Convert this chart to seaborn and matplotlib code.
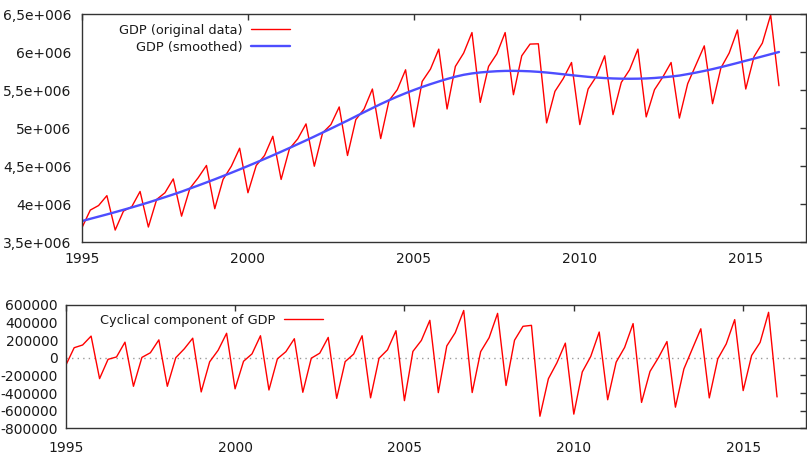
import numpy as np
import pandas as pd
import seaborn as sns
import matplotlib
matplotlib.use("Agg")
import matplotlib.pyplot as plt

# quarterly series, 1995:1 - 2016:1 (values in thousands)
quarters = pd.period_range("1995Q1", "2016Q1", freq="Q")

gdp_k = [
    3689, 3920, 3980, 4110,
    3657, 3907, 3965, 4165,
    3697, 4060, 4148, 4330,
    3840, 4205, 4345, 4507,
    3938, 4323, 4497, 4734,
    4148, 4507, 4638, 4891,
    4323, 4726, 4857, 5054,
    4497, 4936, 5045, 5277,
    4638, 5110, 5250, 5513,
    4861, 5360, 5504, 5766,
    5014, 5613, 5775, 6038,
    5250, 5810, 5986, 6256,
    5337, 5810, 5976, 6256,
    5438, 5950, 6104, 6108,
    5067, 5482, 5650, 5862,
    5045, 5513, 5680, 5950,
    5176, 5600, 5766, 6038,
    5146, 5504, 5670, 5862,
    5130, 5583, 5832, 6081,
    5320, 5789, 5986, 6290,
    5513, 5940, 6117, 6488,
    5556,
]

# HP trend
trend_k = [
    3776, 3805, 3834, 3863,
    3893, 3924, 3955, 3987,
    4020, 4055, 4090, 4126,
    4163, 4203, 4243, 4284,
    4325, 4368, 4411, 4455,
    4500, 4546, 4593, 4640,
    4688, 4737, 4787, 4837,
    4888, 4940, 4992, 5045,
    5098, 5153, 5208, 5262,
    5315, 5365, 5413, 5458,
    5500, 5540, 5577, 5612,
    5645, 5675, 5700, 5718,
    5731, 5740, 5747, 5751,
    5752, 5750, 5746, 5739,
    5730, 5719, 5707, 5695,
    5684, 5673, 5664, 5657,
    5652, 5649, 5648, 5649,
    5652, 5658, 5667, 5677,
    5690, 5709, 5729, 5751,
    5775, 5801, 5828, 5856,
    5885, 5913, 5942, 5971,
    6000,
]

xticks = [1995, 2000, 2005, 2010, 2015]
top_yticks = [3.5e6, 4e6, 4.5e6, 5e6, 5.5e6, 6e6, 6.5e6]
top_ylabels = ["3,5e+006", "4e+006", "4,5e+006", "5e+006", "5,5e+006", "6e+006", "6,5e+006"]
bot_yticks = [-800000, -600000, -400000, -200000, 0, 200000, 400000, 600000]
bot_ylabels = ["-800000", "-600000", "-400000", "-200000", "0", "200000", "400000", "600000"]

df = pd.DataFrame({
    "t": quarters.year + (quarters.quarter - 1) / 4,
    "gdp": np.array(gdp_k) * 1000.0,
    "trend": np.array(trend_k) * 1000.0,
})
df["cycle"] = df["gdp"] - df["trend"]

sns.set_style("white")
plt.rcParams["font.family"] = ["DejaVu Sans"]
txt = "#1a1a1a"

W, H = 807, 455
fig = plt.figure(figsize=(W / 100, H / 100), dpi=100)
ax1 = fig.add_axes([82 / W, 1 - 242 / H, (805.5 - 82) / W, (242 - 14) / H])
ax2 = fig.add_axes([65.7 / W, 1 - 428.3 / H, (805.5 - 65.7) / W, (428.3 - 305) / H])

# top panel: original and smoothed
sns.lineplot(data=df, x="t", y="gdp", color="#ff0000", lw=1, label="GDP (original data)", ax=ax1)
sns.lineplot(data=df, x="t", y="trend", color="#4d4dff", lw=1.7, label="GDP (smoothed)", ax=ax1)
ax1.set_xlim(1995, 2016.80)
ax1.set_ylim(3.5e6, 6.5e6)
ax1.set_yticks(top_yticks)
ax1.set_yticklabels(top_ylabels)
leg1 = ax1.legend(loc="upper right", bbox_to_anchor=(290 / W, 1 - 24 / H),
                  bbox_transform=fig.transFigure, frameon=False, markerfirst=False,
                  handlelength=3.0, handletextpad=0.7, labelspacing=0.3,
                  borderpad=0, borderaxespad=0, fontsize=9.3)

# bottom panel: cyclical component
ax2.axhline(0, color="#999999", lw=1, ls=(0, (1, 3)))
sns.lineplot(data=df, x="t", y="cycle", color="#ff0000", lw=1, label="Cyclical component of GDP", ax=ax2)
ax2.set_xlim(1995, 2016.84)
ax2.set_ylim(-800000, 600000)
ax2.set_yticks(bot_yticks)
ax2.set_yticklabels(bot_ylabels)
leg2 = ax2.legend(loc="upper right", bbox_to_anchor=(323 / W, 1 - 314 / H),
                  bbox_transform=fig.transFigure, frameon=False, markerfirst=False,
                  handlelength=3.0, handletextpad=0.7,
                  borderpad=0, borderaxespad=0, fontsize=9.3)

for leg in (leg1, leg2):
    for t in leg.get_texts():
        t.set_color(txt)

for ax in (ax1, ax2):
    ax.set_xticks(xticks)
    ax.set_xlabel("")
    ax.set_ylabel("")
    ax.tick_params(direction="in", length=4.5, width=1, colors="#333333",
                   labelcolor=txt, labelsize=10, top=True, right=True)
    for s in ax.spines.values():
        s.set_visible(True)
        s.set_color("#333333")
        s.set_linewidth(1)

ax1.tick_params(axis="y", pad=7.5)
ax2.tick_params(axis="y", pad=5.5)
ax1.tick_params(axis="x", pad=7)
ax2.tick_params(axis="x", pad=9)

fig.savefig("out.png", dpi=100)
